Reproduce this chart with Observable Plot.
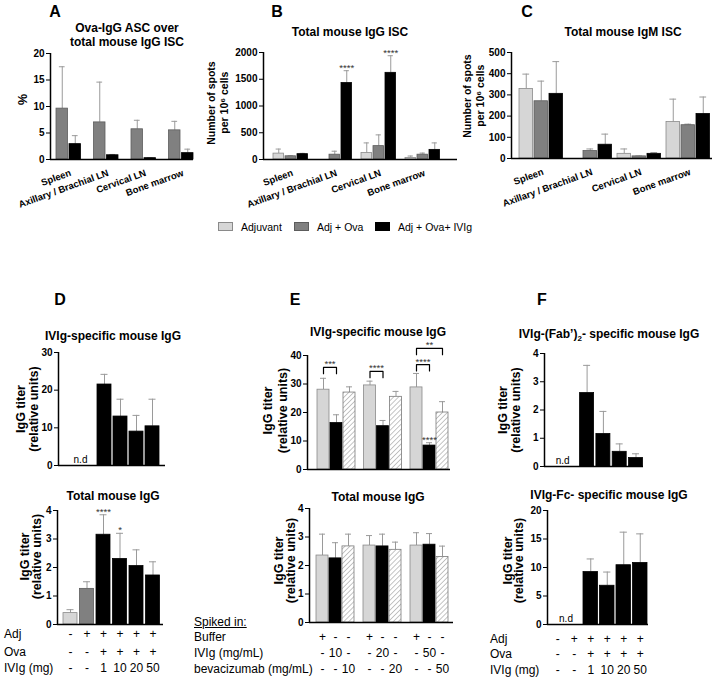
<!DOCTYPE html>
<html><head><meta charset="utf-8">
<script src="https://cdn.jsdelivr.net/npm/d3@7"></script>
<script src="https://cdn.jsdelivr.net/npm/@observablehq/plot@0.6"></script>
<style>
html,body{margin:0;padding:0;background:#fff;}
#fig{position:relative;width:714px;height:681px;overflow:hidden;font-family:"Liberation Sans",Arial,sans-serif;color:#000;background:#fff;}
.t{position:absolute;white-space:nowrap;transform:translate(-50%,-50%);line-height:1.15;text-align:center;}
.l{position:absolute;white-space:nowrap;transform:translate(0,-50%);font-size:12px;}
.letter{font-size:16px;font-weight:bold;}
.title{font-size:12px;font-weight:bold;}
sub{font-size:8px;line-height:0;}
.sw{position:absolute;width:15px;height:9px;box-sizing:border-box;}
.lt{position:absolute;font-size:10.5px;transform:translate(0,-50%);white-space:nowrap;}
</style></head><body>
<svg width="0" height="0" style="position:absolute"><defs>
<pattern id="hatch" patternUnits="userSpaceOnUse" width="3.5" height="3.5" patternTransform="rotate(45)">
<rect width="3.5" height="3.5" fill="#fff"/><line x1="0" y1="0" x2="0" y2="3.5" stroke="#8c8c8c" stroke-width="1"/>
</pattern></defs></svg>
<div id="fig"></div>
<script>
// ---------- data ----------
const tissues = ["Spleen", "Axillary / Brachial LN", "Cervical LN", "Bone marrow"];
const immunization = ["Adjuvant", "Adj + Ova", "Adj + Ova+ IVIg"];

// A: Ova-IgG ASC over total mouse IgG ISC (%)
const aAdjOva = [9.6, 7.0, 5.7, 5.5];
const aAdjOvaUpper = [17.5, 14.6, 7.4, 7.2];
const aAdjOvaIvig = [2.9, 0.8, 0.25, 1.2];
const aAdjOvaIvigUpper = [4.5, 0.95, 0.3, 1.95];

// B: Total mouse IgG ISC (spots per 10^6 cells)
const bAdjuvant = [110, null, 120, 30];
const bAdjuvantUpper = [195, null, 310, 65];
const bAdjOva = [60, 90, 250, 90];
const bAdjOvaUpper = [70, 155, 460, 120];
const bAdjOvaIvig = [100, 1430, 1620, 180];
const bAdjOvaIvigUpper = [115, 1660, 1940, 310];
const bSig = ["", "****", "****", ""];

// C: Total mouse IgM ISC
const cAdjuvant = [328, null, 22, 172];
const cAdjuvantUpper = [398, null, 45, 280];
const cAdjOva = [270, 35, 10, 157];
const cAdjOvaUpper = [365, 45, 12, 162];
const cAdjOvaIvig = [305, 65, 22, 210];
const cAdjOvaIvigUpper = [457, 115, 28, 290];

// D
const dAdj = ["-", "+", "+", "+", "+", "+"];
const dOva = ["-", "-", "+", "+", "+", "+"];
const dIvigMg = ["-", "-", "1", "10", "20", "50"];
const dGroupType = [0, 1, 2, 2, 2, 2];
const dIvigSpecific = [null, null, 21.5, 13, 9, 10.4];
const dIvigSpecificUpper = [null, null, 24.2, 17.6, 13.3, 17.6];
const dTotal = [0.4, 1.25, 3.15, 2.3, 2.05, 1.72];
const dTotalUpper = [0.52, 1.5, 3.85, 3.2, 2.62, 2.2];
const dTotalSig = ["", "", "****", "*", "", ""];

// E
const eBufferRow = ["+", "-", "-", "+", "-", "-", "+", "-", "-"];
const eIvigRow = ["-", "10", "-", "-", "20", "-", "-", "50", "-"];
const eBevaRow = ["-", "-", "10", "-", "-", "20", "-", "-", "50"];
const eSpecBuffer = [28, 29.5, 28.8];
const eSpecBufferUpper = [32, 31, 33.7];
const eSpecIvig = [16.3, 15.2, 8.4];
const eSpecIvigUpper = [19.2, 17.2, 9.4];
const eSpecIvigSig = ["", "", "****"];
const eSpecBeva = [27, 25.5, 20];
const eSpecBevaUpper = [29, 27.4, 23.8];
const eBracketGroup = [0, 1, 2, 2];
const eBracketFrom = [0, 0, 0, 0];
const eBracketTo = [1, 1, 1, 2];
const eBracketTop = [35.8, 34.4, 36.8, 42.5];
const eBracketLabel = ["***", "****", "****", "**"];
const eTotBuffer = [2.35, 2.7, 2.7];
const eTotBufferUpper = [3.1, 3.05, 3.15];
const eTotIvig = [2.25, 2.67, 2.73];
const eTotIvigUpper = [2.8, 3.1, 3.12];
const eTotBeva = [2.67, 2.55, 2.3];
const eTotBevaUpper = [3.1, 2.82, 2.68];

// F
const fFab = [null, null, 2.6, 1.15, 0.52, 0.3];
const fFabUpper = [null, null, 3.58, 1.95, 0.8, 0.45];
const fFc = [null, null, 9.2, 6.8, 10.4, 10.8];
const fFcUpper = [null, null, 11.5, 9.2, 16.2, 15.9];

// axis titles
const yLabelPct = ["%"];
const yLabelSpots = ["Number of spots", "per 10⁶ cells"];
const yLabelTiter = ["IgG titer", "(relative units)"];

// ---------- styles / layout ----------
const FILL = ["#d6d6d6", "#808080", "#000000", "url(#hatch)"];
const STROKE = ["#8a8a8a", "#5c5c5c", "#000000", "#7a7a7a"];
const ERR = "#9a9a9a";
const L = {
  A: {x0: 50, x1: 193, yTop: 53, yBot: 159, pad: 6, groupStep: 37.5, barStep: 13, barW: 11.5},
  B: {x0: 263, x1: 457, yTop: 52, yBot: 159, pad: 10, groupStep: 44, barStep: 12, barW: 10.5},
  C: {x0: 511, x1: 712, yTop: 52, yBot: 158, pad: 8, groupStep: 49, barStep: 15, barW: 13.5},
  D1: {x0: 58, x1: 165, yTop: 352, yBot: 465, pad: 7, groupStep: 16, barStep: 0, barW: 14},
  D2: {x0: 57, x1: 163, yTop: 510, yBot: 624, pad: 6, groupStep: 16.5, barStep: 0, barW: 14},
  E1: {x0: 307, x1: 450, yTop: 355, yBot: 469, pad: 10, groupStep: 46.5, barStep: 13, barW: 12},
  E2: {x0: 309, x1: 453, yTop: 508, yBot: 622, pad: 7, groupStep: 47, barStep: 13, barW: 12},
  F1: {x0: 544, x1: 643, yTop: 353, yBot: 466, pad: 3, groupStep: 16.3, barStep: 0, barW: 14},
  F2: {x0: 547, x1: 648, yTop: 510, yBot: 624, pad: 3, groupStep: 16.5, barStep: 0, barW: 14.5}
};
const ML = 40, MR = 6, MT = 30, MB = 50;
const fig = document.getElementById("fig");

function makeBars(lay, series) {
  const bars = [];
  series.forEach((se, s) => se.values.forEach((v, g) => {
    const x = lay.pad + g * lay.groupStep + s * lay.barStep;
    const t = typeof se.type === "function" ? se.type(g) : se.type;
    bars.push({g, s, x, w: lay.barW, cx: x + lay.barW / 2, value: v, upper: se.upper[g],
      fill: FILL[t], stroke: STROKE[t], sig: se.sig ? se.sig[g] : ""});
  }));
  return bars;
}
const slotCenter = (lay, g, s = 0) => lay.pad + g * lay.groupStep + s * lay.barStep + lay.barW / 2;
const groupCenter = (lay, g, n) => lay.pad + g * lay.groupStep + ((n - 1) * lay.barStep + lay.barW) / 2;

function yTitle(lines, dxs, dy, size) {
  return lines.map((ln, i) => Plot.text([ln], {frameAnchor: "left", text: d => d, rotate: -90,
    dx: dxs[i], dy, fontSize: size, fontWeight: "bold", textAnchor: "middle"}));
}

function panel(lay, ymax, ticks, bars, extra = []) {
  const W = lay.x1 - lay.x0, H = lay.yBot - lay.yTop;
  const drawn = bars.filter(b => b.value != null);
  const withErr = drawn.filter(b => b.upper != null);
  const sig = drawn.filter(b => b.sig);
  const svg = Plot.plot({
    width: W + ML + MR, height: H + MT + MB,
    marginLeft: ML, marginRight: MR, marginTop: MT, marginBottom: MB,
    x: {domain: [0, W], axis: null},
    y: {domain: [0, ymax], ticks, tickSize: 4, tickPadding: 2, label: null, tickFormat: d => String(d)},
    color: {type: "identity"},
    style: {background: "transparent", overflow: "visible", maxWidth: "none",
      fontFamily: "'Liberation Sans', Arial, sans-serif", fontSize: "10px", fontWeight: "bold", color: "#000"},
    marks: [
      Plot.ruleX(withErr, {x: "cx", y1: "value", y2: "upper", stroke: ERR, strokeWidth: 1}),
      Plot.ruleY(withErr, {y: "upper", x1: b => b.x + b.w * 0.25, x2: b => b.x + b.w * 0.75, stroke: ERR, strokeWidth: 1}),
      Plot.rect(drawn, {x1: "x", x2: b => b.x + b.w, y1: () => 0, y2: "value", fill: "fill", stroke: "stroke", strokeWidth: 0.8}),
      Plot.text(sig, {x: "cx", y: "upper", text: "sig", lineAnchor: "bottom", fontSize: 9.5, fontWeight: "normal", fill: "#333"}),
      ...extra,
      Plot.ruleY([0], {stroke: "#000", strokeWidth: 1.5}),
      Plot.ruleX([0], {stroke: "#000", strokeWidth: 1.5})
    ]
  });
  svg.style.position = "absolute";
  svg.style.left = (lay.x0 - ML) + "px";
  svg.style.top = (lay.yTop - MT) + "px";
  fig.appendChild(svg);
}
function tissueLabels(lay, n) {
  return Plot.text(tissues, {x: (d, i) => groupCenter(lay, i, n), y: () => 0, text: d => d,
    rotate: -20, textAnchor: "end", dx: 2, dy: 13, fontSize: 9.5});
}
function ndLabel(lay, values) {
  const idx = values.map((v, i) => v == null ? i : -1).filter(i => i >= 0);
  return Plot.text(["n.d"], {x: () => d3.mean(idx, i => slotCenter(lay, i)), y: () => 0, text: d => d,
    dy: -6, fontSize: 10, fontWeight: "normal"});
}
function tableRows(lay, rows, dys, perGroup = 1) {
  return rows.map((row, r) => Plot.text(row, {
    x: (d, i) => perGroup > 1 ? slotCenter(lay, Math.floor(i / perGroup), i % perGroup) : slotCenter(lay, i),
    y: () => 0, text: d => d, dy: dys[r], fontSize: 12, fontWeight: "normal"}));
}

// ---------- panels ----------
panel(L.A, 20, [0, 5, 10, 15, 20], makeBars(L.A, [
  {values: aAdjOva, upper: aAdjOvaUpper, type: 1},
  {values: aAdjOvaIvig, upper: aAdjOvaIvigUpper, type: 2}
]), [tissueLabels(L.A, 2), ...yTitle(yLabelPct, [-28], -7, 12.5)]);
panel(L.B, 2000, [0, 500, 1000, 1500, 2000], makeBars(L.B, [
  {values: bAdjuvant, upper: bAdjuvantUpper, type: 0},
  {values: bAdjOva, upper: bAdjOvaUpper, type: 1},
  {values: bAdjOvaIvig, upper: bAdjOvaIvigUpper, type: 2, sig: bSig}
]), [tissueLabels(L.B, 3)]);
panel(L.C, 500, [0, 100, 200, 300, 400, 500], makeBars(L.C, [
  {values: cAdjuvant, upper: cAdjuvantUpper, type: 0},
  {values: cAdjOva, upper: cAdjOvaUpper, type: 1},
  {values: cAdjOvaIvig, upper: cAdjOvaIvigUpper, type: 2}
]), [tissueLabels(L.C, 3)]);
panel(L.D1, 30, [0, 10, 20, 30], makeBars(L.D1, [
  {values: dIvigSpecific, upper: dIvigSpecificUpper, type: g => dGroupType[g]}
]), [ndLabel(L.D1, dIvigSpecific), ...yTitle(yLabelTiter, [-38, -25], 0, 12.5)]);
panel(L.D2, 4, [0, 1, 2, 3, 4], makeBars(L.D2, [
  {values: dTotal, upper: dTotalUpper, type: g => dGroupType[g], sig: dTotalSig}
]), [...tableRows(L.D2, [dAdj, dOva, dIvigMg], [10, 28, 44]), ...yTitle(yLabelTiter, [-33, -21], -11, 12.5)]);
const e1Bars = makeBars(L.E1, [
  {values: eSpecBuffer, upper: eSpecBufferUpper, type: 0},
  {values: eSpecIvig, upper: eSpecIvigUpper, type: 2, sig: eSpecIvigSig},
  {values: eSpecBeva, upper: eSpecBevaUpper, type: 3}
]);
const legDrop = 40 * 0.055;
const bracketPts = [];
eBracketGroup.forEach((g, k) => {
  const xa = slotCenter(L.E1, g, eBracketFrom[k]), xb = slotCenter(L.E1, g, eBracketTo[k]);
  const top = eBracketTop[k];
  bracketPts.push({k, x: xa, y: top - legDrop}, {k, x: xa, y: top}, {k, x: xb, y: top}, {k, x: xb, y: top - legDrop});
});
panel(L.E1, 40, [0, 10, 20, 30, 40], e1Bars, [
  Plot.line(bracketPts, {x: "x", y: "y", z: "k", stroke: "#000", strokeWidth: 1.2}),
  Plot.text(eBracketLabel, {x: (d, k) => (slotCenter(L.E1, eBracketGroup[k], eBracketFrom[k]) + slotCenter(L.E1, eBracketGroup[k], eBracketTo[k])) / 2,
    y: (d, k) => eBracketTop[k], text: d => d, lineAnchor: "bottom", fontSize: 9.5, fontWeight: "normal", fill: "#333"}),
  ...yTitle(yLabelTiter, [-40, -25], -2, 12.5)
]);
panel(L.E2, 4, [0, 1, 2, 3, 4], makeBars(L.E2, [
  {values: eTotBuffer, upper: eTotBufferUpper, type: 0},
  {values: eTotIvig, upper: eTotIvigUpper, type: 2},
  {values: eTotBeva, upper: eTotBevaUpper, type: 3}
]), [...tableRows(L.E2, [eBufferRow, eIvigRow, eBevaRow], [15, 31, 47], 3), ...yTitle(yLabelTiter, [-31, -19], -5, 12.5)]);
panel(L.F1, 4, [0, 1, 2, 3, 4], makeBars(L.F1, [
  {values: fFab, upper: fFabUpper, type: 2}
]), [ndLabel(L.F1, fFab), ...yTitle(yLabelTiter, [-42, -29], 0, 12.5)]);
panel(L.F2, 20, [0, 5, 10, 15, 20], makeBars(L.F2, [
  {values: fFc, upper: fFcUpper, type: 2}
]), [ndLabel(L.F2, fFc), ...tableRows(L.F2, [dAdj, dOva, dIvigMg], [15, 30, 46]), ...yTitle(yLabelTiter, [-40, -29], -7, 12.5)]);

// ---------- text ----------
function txt(html, x, y, cls, extraCss = "") {
  const d = document.createElement("div");
  d.className = cls; d.innerHTML = html;
  d.style.left = x + "px"; d.style.top = y + "px";
  if (extraCss) d.style.cssText += extraCss;
  fig.appendChild(d);
  return d;
}
// y titles of B and C: vertical writing mode, read bottom-to-top
function vlabel(lines, cx, cy) {
  const d = txt(lines.join("<br>"), cx, cy, "t",
    "writing-mode:vertical-rl;transform:translate(-50%,-50%) rotate(180deg);font-size:10.5px;font-weight:bold;line-height:13px;");
  return d;
}
vlabel(yLabelSpots, 218, 103);
vlabel(yLabelSpots, 474, 96);
// panel letters
txt("A", 55, 12, "t letter"); txt("B", 277, 12, "t letter"); txt("C", 527, 12, "t letter");
txt("D", 60, 300, "t letter"); txt("E", 295, 300, "t letter"); txt("F", 542, 300, "t letter");
// titles
txt("Ova-IgG ASC over<br>total mouse IgG ISC", 127, 35, "t title", "line-height:14px;");
txt("Total mouse IgG ISC", 350, 33, "t title");
txt("Total mouse IgM ISC", 623, 33, "t title");
txt("IVIg-specific mouse IgG", 113, 337, "t title");
txt("Total mouse IgG", 113, 497, "t title");
txt("IVIg-specific mouse IgG", 378, 333, "t title");
txt("Total mouse IgG", 378, 498, "t title");
txt("IVIg-(Fab’)<sub>2</sub>- specific mouse IgG", 609, 335, "t title");
txt("IVIg-Fc- specific mouse IgG", 609, 496, "t title");
// legend
const legX = [218, 294, 375];
immunization.forEach((name, i) => {
  const sw = document.createElement("div");
  sw.className = "sw";
  sw.style.left = legX[i] + "px"; sw.style.top = "222px";
  sw.style.background = FILL[i]; sw.style.border = "1px solid " + STROKE[i];
  fig.appendChild(sw);
  txt(name, legX[i] + 23, 226.5, "lt");
});
// table row labels
txt("Adj", 4, 634, "l"); txt("Ova", 4, 652, "l"); txt("IVIg (mg)", 4, 668, "l");
txt("Adj", 490, 639, "l"); txt("Ova", 490, 654, "l"); txt("IVIg (mg)", 490, 670, "l");
txt("<u>Spiked in:</u>", 194, 622, "l"); txt("Buffer", 194, 637, "l");
txt("IVIg (mg/mL)", 194, 653, "l"); txt("bevacizumab (mg/mL)", 194, 669, "l");
</script>
</body></html>
